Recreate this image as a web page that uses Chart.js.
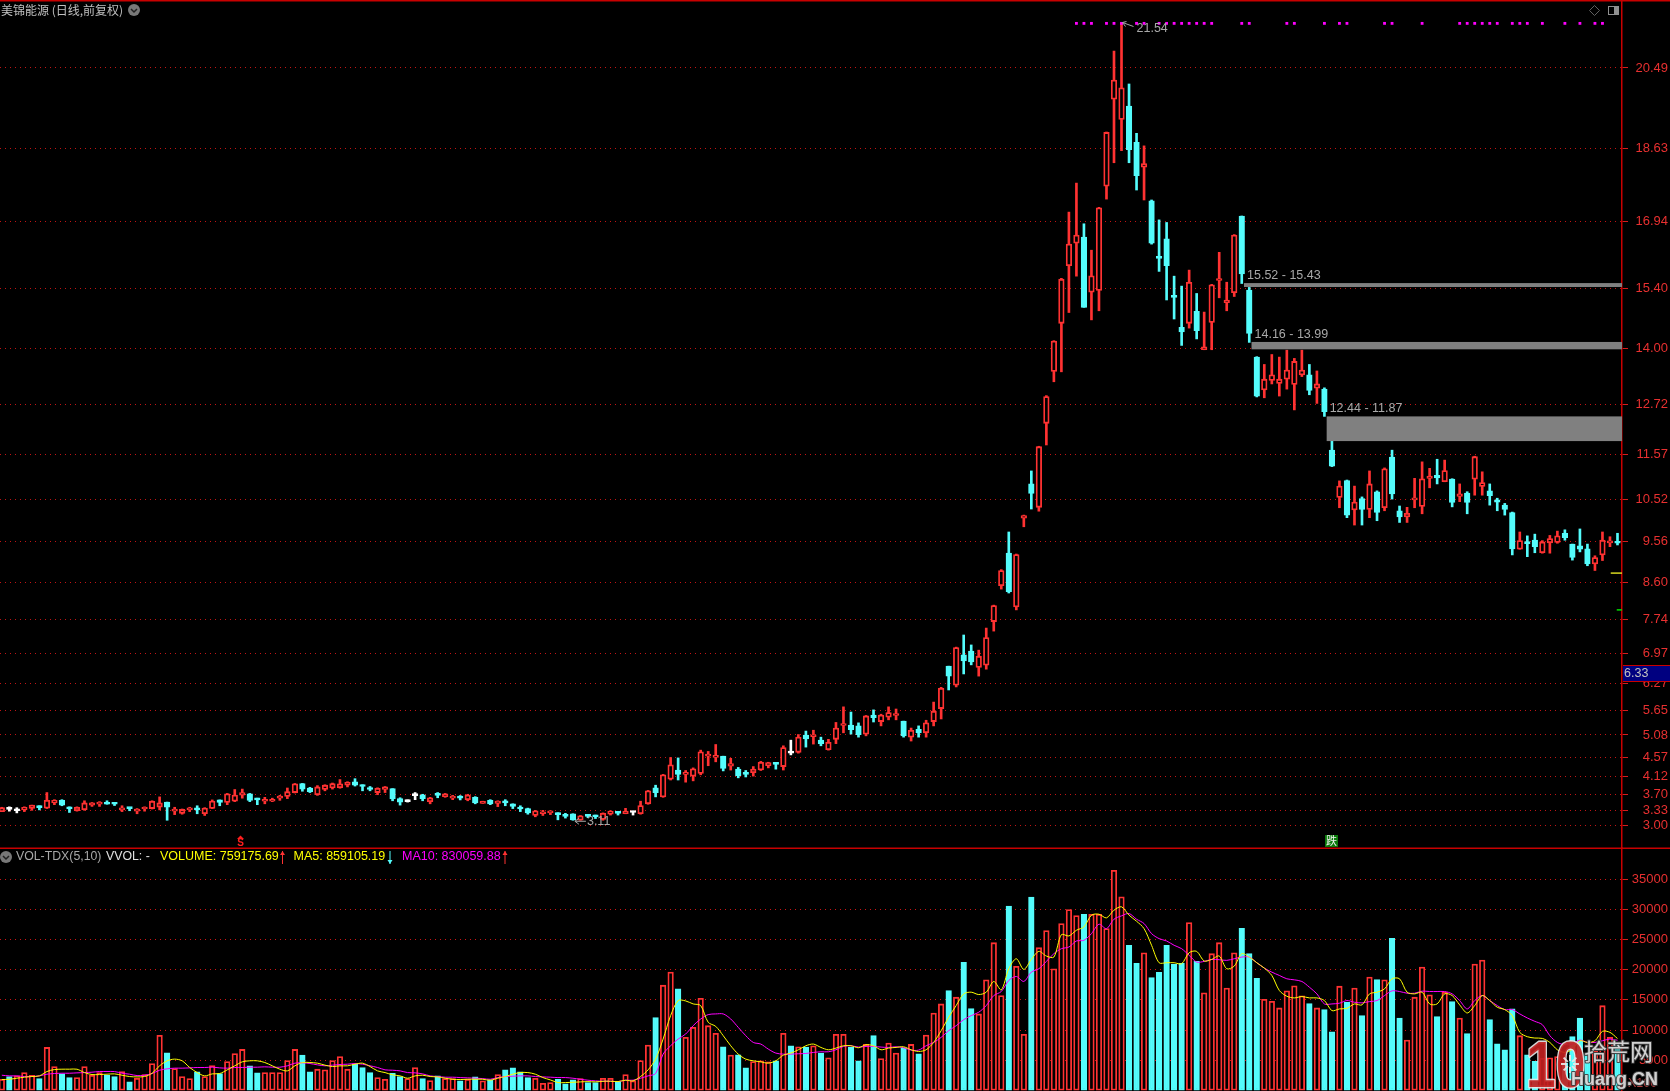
<!DOCTYPE html>
<html>
<head>
<meta charset="utf-8">
<title>美锦能源</title>
<script src="https://cdn.jsdelivr.net/npm/chart.js@4"></script>
<style>
  html, body { margin: 0; padding: 0; background: #000; overflow: hidden; }
  canvas { display: block; }
</style>
</head>
<body>
<canvas id="chart" width="1670" height="1091"></canvas>
<script>
const priceTicks = [3.00, 3.33, 3.70, 4.12, 4.57, 5.08, 5.65, 6.27, 6.97, 7.74, 8.60, 9.56, 10.52, 11.57, 12.72, 14.00, 15.40, 16.94, 18.63, 20.49];
const volumeTicks = [5000, 10000, 15000, 20000, 25000, 30000, 35000];

const opens = [
  3.31,3.37,3.33,3.35,3.385,3.42,3.39,3.51,3.57,3.42,
  3.33,3.355,3.46,3.48,3.50,3.51,3.35,3.40,3.32,3.37,
  3.38,3.415,3.53,3.32,3.27,3.35,3.37,3.26,3.385,3.58,
  3.52,3.55,3.69,3.72,3.60,3.55,3.55,3.62,3.66,3.75,
  3.955,3.855,3.70,3.82,3.855,3.86,3.92,4.00,3.92,3.86,
  3.75,3.82,3.84,3.61,3.54,3.68,3.70,3.54,3.71,3.655,
  3.62,3.65,3.585,3.64,3.50,3.57,3.50,3.53,3.49,3.40,
  3.38,3.22,3.26,3.28,3.26,3.23,3.26,3.11,3.21,3.20,
  3.13,3.25,3.31,3.26,3.29,3.26,3.49,3.86,3.65,4.06,
  4.27,4.17,4.13,4.19,4.59,4.56,4.59,4.36,4.29,4.21,
  4.21,4.27,4.37,4.42,4.35,4.68,4.68,5.08,5.04,4.96,
  4.74,4.98,5.30,5.31,5.29,5.10,5.54,5.39,5.49,5.53,
  5.40,5.03,5.21,5.13,5.39,5.69,6.67,6.23,6.93,7.02,
  6.64,6.69,7.70,8.53,9.28,8.04,10.09,10.88,10.34,12.28,
  13.48,14.59,15.92,16.44,16.58,15.31,15.35,17.76,19.77,19.30,
  19.61,18.77,18.20,17.42,16.11,16.54,15.21,14.50,14.59,14.87,
  13.98,14.61,15.58,15.07,15.30,17.07,15.36,13.81,13.05,13.27,
  13.20,13.30,13.18,13.40,13.40,13.09,13.07,11.66,10.57,10.96,
  10.28,10.54,10.29,10.70,10.33,11.50,10.26,10.12,10.51,10.36,
  11.01,11.08,10.93,10.99,10.59,10.67,10.99,10.82,10.72,10.51,
  10.39,10.22,9.37,9.52,9.58,9.29,9.52,9.53,9.74,9.49,
  9.45,9.38,9.03,9.24,9.52,9.55
];
const closes = [
  3.40,3.36,3.36,3.41,3.46,3.40,3.57,3.57,3.46,3.37,
  3.41,3.51,3.51,3.53,3.48,3.48,3.39,3.38,3.37,3.415,
  3.55,3.51,3.41,3.35,3.36,3.39,3.35,3.39,3.555,3.52,
  3.72,3.69,3.75,3.57,3.58,3.59,3.585,3.67,3.77,3.95,
  3.83,3.77,3.88,3.92,3.955,3.95,3.985,3.92,3.89,3.82,
  3.85,3.88,3.60,3.53,3.58,3.70,3.61,3.63,3.685,3.72,
  3.65,3.62,3.69,3.51,3.55,3.485,3.555,3.51,3.43,3.37,
  3.28,3.33,3.30,3.32,3.24,3.20,3.12,3.215,3.20,3.19,
  3.27,3.32,3.27,3.32,3.30,3.45,3.79,3.75,4.16,4.39,
  4.17,4.21,4.30,4.69,4.64,4.61,4.31,4.42,4.14,4.17,
  4.29,4.45,4.44,4.40,4.79,4.66,5.03,4.99,5.07,4.88,
  4.91,5.24,5.33,5.20,5.09,5.52,5.48,5.54,5.60,5.56,
  5.06,5.19,5.13,5.36,5.63,6.16,6.44,7.10,6.79,6.77,
  6.90,7.33,8.07,8.88,8.39,9.25,10.15,10.66,11.74,12.90,
  14.18,15.61,16.42,16.63,14.96,15.69,17.26,19.00,20.21,20.03,
  18.60,18.00,18.28,16.44,16.09,15.92,15.19,14.39,15.54,14.42,
  14.05,15.48,15.62,15.13,16.63,15.73,14.36,12.91,13.30,13.40,
  13.30,13.51,13.71,13.51,13.04,13.19,12.55,11.29,10.83,10.16,
  10.46,10.29,10.88,10.22,11.23,10.65,10.12,10.20,10.53,11.00,
  11.06,11.02,11.19,10.45,10.65,10.45,11.51,10.91,10.61,10.46,
  10.29,9.38,9.57,9.50,9.43,9.54,9.62,9.68,9.64,9.18,
  9.37,9.03,9.18,9.58,9.56,9.51
];
const highs = [
  3.41,3.42,3.40,3.42,3.46,3.445,3.75,3.585,3.585,3.42,
  3.42,3.56,3.52,3.54,3.56,3.51,3.445,3.40,3.38,3.42,
  3.56,3.65,3.53,3.41,3.37,3.41,3.445,3.40,3.58,3.58,
  3.73,3.82,3.83,3.73,3.62,3.64,3.62,3.685,3.855,3.96,
  3.96,3.87,3.91,3.93,3.97,4.05,4.00,4.07,3.93,3.89,
  3.86,3.89,3.84,3.63,3.58,3.75,3.71,3.64,3.75,3.73,
  3.685,3.68,3.71,3.655,3.55,3.585,3.56,3.585,3.49,3.445,
  3.39,3.34,3.34,3.33,3.285,3.27,3.26,3.22,3.24,3.23,
  3.28,3.33,3.31,3.385,3.32,3.55,3.80,3.92,4.17,4.56,
  4.55,4.26,4.32,4.73,4.70,4.86,4.59,4.54,4.33,4.26,
  4.35,4.47,4.45,4.43,4.83,4.96,5.09,5.17,5.19,5.03,
  4.98,5.37,5.73,5.61,5.36,5.53,5.66,5.56,5.73,5.68,
  5.40,5.24,5.29,5.42,5.84,6.18,6.67,7.11,7.39,7.16,
  7.04,7.55,8.08,8.90,9.77,9.26,10.16,11.18,11.75,12.92,
  14.19,15.63,17.16,17.83,16.89,16.28,17.27,19.01,20.88,21.54,
  20.12,18.98,18.69,17.44,16.98,16.92,15.68,15.45,15.82,15.28,
  14.85,15.49,16.23,15.54,16.64,17.07,15.42,13.82,13.64,13.87,
  13.81,13.97,13.78,13.97,13.64,13.49,13.10,11.87,10.95,10.97,
  10.83,10.58,11.18,10.72,11.25,11.66,10.37,10.34,11.01,11.39,
  11.24,11.45,11.43,11.00,10.88,10.70,11.52,11.16,10.88,10.55,
  10.43,10.23,9.77,9.68,9.72,9.57,9.69,9.79,9.82,9.49,
  9.84,9.49,9.22,9.77,9.66,9.74
];
const lows = [
  3.31,3.32,3.28,3.31,3.34,3.35,3.38,3.47,3.445,3.29,
  3.32,3.34,3.43,3.43,3.48,3.45,3.31,3.33,3.26,3.32,
  3.37,3.35,3.11,3.24,3.25,3.31,3.26,3.22,3.38,3.445,
  3.47,3.54,3.62,3.54,3.47,3.49,3.54,3.57,3.61,3.74,
  3.78,3.75,3.685,3.79,3.83,3.85,3.88,3.90,3.79,3.79,
  3.70,3.75,3.56,3.46,3.53,3.585,3.56,3.49,3.63,3.64,
  3.585,3.58,3.56,3.49,3.50,3.47,3.425,3.445,3.38,3.31,
  3.25,3.19,3.22,3.24,3.12,3.16,3.11,3.11,3.17,3.15,
  3.11,3.23,3.23,3.26,3.23,3.25,3.48,3.65,3.64,4.04,
  4.04,3.99,4.02,4.16,4.37,4.46,4.25,4.27,4.09,4.11,
  4.13,4.26,4.32,4.29,4.27,4.62,4.66,4.80,4.87,4.83,
  4.73,4.88,5.13,5.10,5.03,5.06,5.38,5.29,5.43,5.43,
  5.03,4.94,5.03,5.03,5.29,5.45,6.12,6.19,6.49,6.70,
  6.44,6.60,7.48,8.45,8.36,7.97,9.89,10.30,10.25,11.78,
  13.24,13.47,14.84,15.68,14.96,14.67,14.88,17.46,18.30,18.58,
  18.30,17.67,17.44,16.42,15.79,15.13,14.69,14.08,14.48,14.23,
  13.98,13.98,15.18,14.88,15.21,15.51,14.15,12.89,12.87,13.19,
  12.91,13.07,12.59,13.36,12.94,12.74,12.44,11.28,10.33,10.10,
  9.93,9.93,10.10,10.03,10.26,10.53,9.99,9.99,10.33,10.19,
  10.79,10.88,10.93,10.35,10.47,10.19,10.62,10.62,10.39,10.26,
  10.16,9.24,9.37,9.20,9.29,9.28,9.28,9.51,9.58,9.12,
  9.31,8.99,8.88,9.11,9.43,9.47
];
// candles drawn white in the reference (flat days)
const flatDays = [1, 2, 54, 55, 84, 105];

const volumes = [
  1830,2280,2390,2940,2500,1940,7110,3940,2720,2110,
  2110,3940,2500,2940,2500,2280,3110,1390,2000,2610,
  4440,9110,6220,3610,2280,1940,3060,2280,4110,2780,
  4780,6110,6780,4060,2890,2940,2940,2940,4940,6780,
  5830,3060,3500,3390,4940,5610,3500,4330,3780,2940,
  2110,1830,2830,2280,1940,3780,1940,1610,2390,1940,
  1940,1560,1830,2220,1560,1720,2610,3390,3720,3060,
  2110,2000,1170,1280,1830,1060,1720,1940,1280,1280,
  2000,2000,1440,2610,1560,4940,7500,12060,17440,19610,
  16830,8780,10440,15280,10720,9440,7220,5830,5890,3720,
  4780,4890,4720,4890,9440,7390,7220,7170,7390,6170,
  5390,9280,9280,7110,4890,7610,9060,5280,7830,6170,
  7060,7610,6060,9170,12830,14330,16560,15450,21220,13560,
  12670,18330,24500,15720,30560,20560,9280,32060,23670,26500,
  20170,27670,30000,29000,29220,29220,29220,26830,36500,32110,
  24060,21060,22830,18720,19560,24060,20890,21060,27830,21390,
  16170,22670,24500,16950,22830,26890,22670,18560,15110,14780,
  13670,16500,17330,15670,14390,13670,13390,9720,17280,14610,
  16950,12390,18780,18390,18330,25220,12000,8330,15450,20450,
  15830,12220,16280,14720,12000,9390,20950,21610,11720,7720,
  6720,13500,9060,5900,4800,5300,5400,5600,4500,8900,
  12000,6000,6500,14040,8800,7590
];
const ma5 = [
  1780,1830,2000,2170,2280,2390,3110,3440,3500,3500,
  3500,2940,2610,2610,2670,2720,2500,2280,2220,2280,
  2830,4060,4890,5170,4890,3780,2940,2390,2720,2780,
  3390,4060,4720,4890,4890,4610,4060,3500,3220,4060,
  4610,4610,4500,4170,3940,4060,4060,4330,4500,3940,
  3220,2940,2560,2390,2000,2390,2500,2280,2220,2000,
  1830,1780,1830,1830,1830,1670,2000,2280,2670,2940,
  2940,2670,2110,1720,1280,1280,1330,1390,1440,1390,
  1500,1500,1440,1670,1560,2280,3390,5170,8500,12390,
  14890,14830,14330,14060,11280,10610,9060,7390,6000,5170,
  4890,4720,4500,4890,5830,6170,6720,7390,7670,7110,
  6720,7000,7390,7390,7060,7560,7390,6720,7000,7110,
  7220,6720,6440,6720,7940,9890,12110,14060,16000,16280,
  15890,16280,18060,16670,20170,21830,20060,21720,23060,22280,
  22110,25830,25610,26560,27110,29060,29220,28610,29890,30450,
  29060,28060,26830,24060,21170,21170,21170,21000,22830,23060,
  21450,21720,22280,20170,20610,22670,22110,21170,20280,19060,
  16560,15610,15330,15560,15330,15330,14890,13220,13500,13610,
  14330,14170,16000,16280,16830,18500,18500,16280,16000,16280,
  14330,14330,16000,15720,14170,12830,14060,15720,14890,13780,
  13390,12390,9610,8890,8670,8610,7940,6720,6280,6830,
  8220,7940,8220,9780,9610,8590
];
const ma10 = [
  2500,2390,2390,2280,2280,2390,2670,2780,2830,2830,
  2890,2940,3000,3110,3110,3110,2830,2670,2440,2500,
  2780,3330,3560,3670,3670,3720,3780,3780,3830,3720,
  3670,3780,3780,3830,3830,3890,3830,3830,4060,4500,
  4560,4440,4220,4060,4170,4280,4330,4440,4330,4060,
  3780,3390,3330,3220,2940,2890,2720,2390,2280,2170,
  2170,2110,2060,2000,1940,1830,2110,2280,2330,2390,
  2390,2280,2220,2170,2110,2110,2000,1830,1670,1560,
  1500,1500,1440,1670,1670,2000,2390,2780,6000,7390,
  8500,9330,10720,11830,12560,12670,12670,11830,10440,9060,
  7940,7670,6830,6170,6000,6000,6060,6110,6280,6390,
  6390,6720,7280,7390,7170,7280,7280,7170,7110,7220,
  7060,6670,6670,7390,7940,8780,9890,10720,11720,12390,
  12950,14060,15720,16390,18220,18890,18060,19610,20170,21390,
  22670,23500,23780,24780,24890,26000,27560,26830,28390,28950,
  29330,28390,27670,26000,25170,24780,24060,23500,22390,21280,
  21390,21720,21670,21560,21830,22110,22110,21170,20280,19610,
  19060,18500,18330,18060,17110,16000,14330,14330,14450,14890,
  14610,14500,14720,14890,15720,16500,16390,16110,16110,16450,
  16390,16390,16390,16000,14890,13500,14890,15720,14890,14060,
  13390,13390,12670,12000,11440,10890,9060,7940,7560,7670,
  8330,7940,7940,8220,8500,8300
];

// days with the magenta dot along the top of the price pane
const signalDays = [143,144,145,147,148,149,151,152,154,155,156,157,158,159,160,161,165,166,171,172,176,178,179,184,185,189,194,195,196,197,198,199,201,202,203,205,208,210,212,213];
const signalLevel = 21.52;

// unfilled gaps, top - bottom, and the day they start after
const gapTops = [15.52, 14.16, 12.44];
const gapBottoms = [15.43, 13.99, 11.87];
const gapDays = [165, 166, 176];

const RED = '#ff3232';
const CYAN = '#54fcfc';
const AXIS_RED = '#c80000';
const LABEL_FONT = '"Liberation Sans", Arial, sans-serif';

function candleColor(i) {
  if (flatDays.includes(i)) return '#ffffff';
  return closes[i] >= opens[i] ? RED : CYAN;
}
function volumeColor(i) {
  return closes[i] >= opens[i] ? RED : CYAN;
}

const days = opens.map((v, i) => i);

// the tick labels must not shrink the panes: they run edge to edge
function fitAxis(scale) {
  scale.width = 46;
  scale.paddingTop = 0;
  scale.paddingBottom = 0;
}

const overlayPlugin = {
  id: 'overlay',
  afterDatasetsDraw(chart) {
    const ctx = chart.ctx;
    const x = chart.scales.x;
    const y = chart.scales.y;
    const right = chart.chartArea.right;

    // gap zones
    gapTops.forEach((top, n) => {
      const left = x.getPixelForValue(gapDays[n] + 0.3);
      const yTop = y.getPixelForValue(top);
      const yBottom = y.getPixelForValue(gapBottoms[n]);
      ctx.fillStyle = '#808080';
      ctx.fillRect(left, yTop, right - left, Math.max(yBottom - yTop, 3));
      ctx.fillStyle = '#a8a8a8';
      ctx.font = '12.5px ' + LABEL_FONT;
      ctx.textAlign = 'left';
      ctx.textBaseline = 'middle';
      ctx.fillText(top.toFixed(2) + ' - ' + gapBottoms[n].toFixed(2), left + 3, yTop - 7.5);
    });

    // frame lines
    ctx.fillStyle = AXIS_RED;
    ctx.fillRect(0, 0, 1670, 1.5);
    ctx.fillRect(0, 847.5, 1670, 1.5);

    // high and low callouts
    ctx.strokeStyle = '#a8a8a8';
    ctx.lineWidth = 1;
    const highX = x.getPixelForValue(149);
    const highY = y.getPixelForValue(21.54);
    ctx.beginPath();
    ctx.moveTo(highX + 1, highY);
    ctx.lineTo(highX + 12, highY + 4);
    ctx.moveTo(highX + 1, highY);
    ctx.lineTo(highX + 5, highY - 1);
    ctx.moveTo(highX + 1, highY);
    ctx.lineTo(highX + 4, highY + 4);
    ctx.stroke();
    const lowX = x.getPixelForValue(76);
    const lowY = y.getPixelForValue(3.11);
    ctx.beginPath();
    ctx.moveTo(lowX + 2, lowY + 1);
    ctx.lineTo(lowX + 13, lowY + 1);
    ctx.moveTo(lowX + 2, lowY + 1);
    ctx.lineTo(lowX + 6, lowY - 2);
    ctx.moveTo(lowX + 2, lowY + 1);
    ctx.lineTo(lowX + 6, lowY + 4);
    ctx.stroke();
    ctx.fillStyle = '#a8a8a8';
    ctx.font = '12.5px ' + LABEL_FONT;
    ctx.textAlign = 'left';
    ctx.textBaseline = 'middle';
    ctx.fillText('21.54', highX + 15, highY + 6);
    ctx.fillText('3.11', lowX + 14, lowY + 1);

    // trade markers above the divider
    ctx.fillStyle = '#ff1e1e';
    ctx.beginPath();
    ctx.moveTo(240.5, 835.5);
    ctx.lineTo(237, 839);
    ctx.lineTo(244, 839);
    ctx.fill();
    ctx.font = 'bold 10px ' + LABEL_FONT;
    ctx.textAlign = 'center';
    ctx.fillText('S', 240.5, 843.5);
    ctx.fillStyle = '#0a7a0a';
    ctx.fillRect(1325, 835, 13, 12);
    ctx.fillStyle = '#f0f0f0';
    ctx.font = '11px "Noto Sans CJK SC"';
    ctx.fillText('跌', 1331.5, 841);

    // latest price tag over the axis
    ctx.fillStyle = '#000080';
    ctx.fillRect(1623, 666, 47, 15);
    ctx.strokeStyle = AXIS_RED;
    ctx.beginPath();
    ctx.moveTo(1623, 665.5);
    ctx.lineTo(1670, 665.5);
    ctx.moveTo(1623, 681.5);
    ctx.lineTo(1670, 681.5);
    ctx.stroke();
    ctx.fillStyle = '#c0c0c0';
    ctx.font = '12.5px ' + LABEL_FONT;
    ctx.textAlign = 'left';
    ctx.fillText('6.33', 1624, 674);

    // pane titles
    ctx.font = '12px "Noto Sans CJK SC"';
    ctx.fillStyle = '#c0c0c0';
    ctx.fillText('美锦能源 (日线,前复权)', 1, 10);
    circleIcon(ctx, 134, 10);
    circleIcon(ctx, 6, 857);

    ctx.font = '12.3px ' + LABEL_FONT;
    ctx.fillStyle = '#a8a8a8';
    ctx.fillText('VOL-TDX(5,10)', 16, 857);
    ctx.fillStyle = '#e0e0e0';
    ctx.fillText('VVOL: -', 106, 857);
    ctx.font = '12.5px ' + LABEL_FONT;
    ctx.fillStyle = '#ffff00';
    ctx.fillText('VOLUME: 759175.69', 160, 857);
    ctx.fillText('MA5: 859105.19', 293.5, 857);
    ctx.fillStyle = '#ff00ff';
    ctx.fillText('MA10: 830059.88', 402, 857);
    arrowIcon(ctx, 282.5, true, RED);
    arrowIcon(ctx, 390, false, CYAN);
    arrowIcon(ctx, 505, true, RED);

    // window buttons
    ctx.strokeStyle = '#606060';
    ctx.beginPath();
    ctx.moveTo(1594.5, 5.5);
    ctx.lineTo(1599.5, 10.5);
    ctx.lineTo(1594.5, 15.5);
    ctx.lineTo(1589.5, 10.5);
    ctx.closePath();
    ctx.stroke();
    ctx.strokeStyle = '#909090';
    ctx.strokeRect(1608.5, 6.5, 10, 8);
    ctx.fillStyle = '#909090';
    ctx.fillRect(1614, 7, 4, 7);

    // axis note and site mark
    ctx.fillStyle = '#b04040';
    ctx.font = '12.5px ' + LABEL_FONT;
    ctx.fillText('X100', 1628, 1084);
    watermark(ctx);
  }
};

function circleIcon(ctx, cx, cy) {
  ctx.fillStyle = '#787878';
  ctx.beginPath();
  ctx.arc(cx, cy, 6, 0, Math.PI * 2);
  ctx.fill();
  ctx.strokeStyle = '#202020';
  ctx.lineWidth = 1.5;
  ctx.beginPath();
  ctx.moveTo(cx - 3, cy - 1);
  ctx.lineTo(cx, cy + 2);
  ctx.lineTo(cx + 3, cy - 1);
  ctx.stroke();
  ctx.lineWidth = 1;
}

function arrowIcon(ctx, cx, up, color) {
  ctx.strokeStyle = color;
  ctx.fillStyle = color;
  ctx.lineWidth = 1;
  ctx.beginPath();
  ctx.moveTo(cx, 851);
  ctx.lineTo(cx, 864);
  ctx.stroke();
  const tip = up ? 851 : 864;
  const base = up ? 855 : 860;
  ctx.beginPath();
  ctx.moveTo(cx, tip);
  ctx.lineTo(cx - 2.5, base);
  ctx.lineTo(cx + 2.5, base);
  ctx.fill();
}

function watermark(ctx) {
  ctx.save();
  ctx.textBaseline = 'alphabetic';
  ctx.textAlign = 'left';
  ctx.lineJoin = 'round';
  ctx.globalAlpha = 0.92;

  // narrow tall "10"
  ctx.save();
  ctx.translate(1526, 1087);
  ctx.scale(0.82, 1);
  ctx.font = 'bold 65px ' + LABEL_FONT;
  ctx.lineWidth = 3;
  ctx.strokeStyle = '#e8e8e8';
  ctx.strokeText('10', 0, 0);
  ctx.fillStyle = '#c02020';
  ctx.fillText('10', 0, 0);
  ctx.restore();

  // gear in the zero
  ctx.strokeStyle = '#e8e8e8';
  ctx.lineWidth = 2;
  for (let a = 0; a < 8; a++) {
    const t = a * Math.PI / 4;
    ctx.beginPath();
    ctx.moveTo(1570 + Math.cos(t) * 3, 1064 + Math.sin(t) * 3);
    ctx.lineTo(1570 + Math.cos(t) * 9, 1064 + Math.sin(t) * 9);
    ctx.stroke();
  }

  ctx.font = '23px "Noto Sans CJK SC"';
  ctx.lineWidth = 2;
  ctx.strokeStyle = '#404040';
  ctx.strokeText('拾荒网', 1584, 1060);
  ctx.fillStyle = '#e0e0e0';
  ctx.fillText('拾荒网', 1584, 1060);

  ctx.font = 'bold 18px ' + LABEL_FONT;
  ctx.strokeText('Huang.CN', 1571, 1085);
  ctx.fillStyle = '#e0e0e0';
  ctx.fillText('Huang.CN', 1571, 1085);
  ctx.restore();
}

new Chart(document.getElementById('chart'), {
  type: 'bar',
  data: {
    datasets: [
      {
        label: 'wicks',
        yAxisID: 'y',
        data: days.map(i => ({ x: i, y: [lows[i], highs[i]] })),
        backgroundColor: days.map(candleColor),
        barThickness: 2,
        grouped: false,
        order: 5
      },
      {
        label: 'bodies',
        yAxisID: 'y',
        data: days.map(i => ({ x: i, y: [opens[i], closes[i]] })),
        backgroundColor: days.map(i => (closes[i] >= opens[i] && !flatDays.includes(i) ? '#000000' : candleColor(i))),
        borderColor: days.map(candleColor),
        borderWidth: 1.8,
        borderSkipped: false,
        minBarLength: 2,
        barThickness: 5.6,
        grouped: false,
        order: 4
      },
      {
        label: 'signal',
        type: 'line',
        yAxisID: 'y',
        data: signalDays.map(i => ({ x: i, y: signalLevel })),
        showLine: false,
        pointStyle: 'rect',
        pointRadius: 2,
        pointBackgroundColor: '#ff00ff',
        pointBorderWidth: 0,
        order: 3
      },
      {
        label: 'yellow mark',
        type: 'line',
        yAxisID: 'y',
        data: [{ x: 214.1, y: 8.82 }, { x: 215.6, y: 8.82 }],
        borderColor: '#d8d820',
        borderWidth: 1.5,
        pointRadius: 0,
        order: 3
      },
      {
        label: 'green mark',
        type: 'line',
        yAxisID: 'y',
        data: [{ x: 214.9, y: 7.97 }, { x: 215.6, y: 7.97 }],
        borderColor: '#00e000',
        borderWidth: 1.5,
        pointRadius: 0,
        order: 3
      },
      {
        label: 'volume',
        yAxisID: 'yVol',
        data: days.map(i => ({ x: i, y: volumes[i] })),
        backgroundColor: days.map(i => (closes[i] >= opens[i] ? '#000000' : CYAN)),
        borderColor: days.map(volumeColor),
        borderWidth: 1.8,
        borderSkipped: false,
        barThickness: 5.6,
        grouped: false,
        order: 4
      },
      {
        label: 'MA10',
        type: 'line',
        yAxisID: 'yVol',
        data: days.map(i => ({ x: i, y: ma10[i] })),
        borderColor: '#ff00ff',
        borderWidth: 1,
        pointRadius: 0,
        tension: 0.3,
        order: 2
      },
      {
        label: 'MA5',
        type: 'line',
        yAxisID: 'yVol',
        data: days.map(i => ({ x: i, y: ma5[i] })),
        borderColor: '#ffff00',
        borderWidth: 1,
        pointRadius: 0,
        tension: 0.3,
        order: 1
      }
    ]
  },
  options: {
    responsive: false,
    animation: false,
    devicePixelRatio: 1,
    events: [],
    layout: { autoPadding: false, padding: { left: 0, top: 0, bottom: 0, right: 2 } },
    plugins: {
      legend: { display: false },
      title: { display: false },
      tooltip: { enabled: false }
    },
    scales: {
      x: {
        type: 'linear',
        offset: false,
        min: -0.24,
        max: 215.6,
        display: false
      },
      y: {
        type: 'linear',
        position: 'right',
        stack: 'panes',
        stackWeight: 848,
        weight: 1,
        min: 2.469,
        max: 22.06,
        afterFit: fitAxis,
        afterBuildTicks(scale) { scale.ticks = priceTicks.map(v => ({ value: v })); },
        border: { color: AXIS_RED, width: 1.5, dash: [1, 4] },
        grid: { color: '#c21414', tickColor: '#d81c1c', tickLength: 6, lineWidth: 1 },
        ticks: {
          color: '#e83030',
          crossAlign: 'far',
          autoSkip: false,
          font: { family: 'Liberation Sans', size: 13 },
          callback: v => v.toFixed(2)
        }
      },
      yVol: {
        type: 'linear',
        position: 'right',
        stack: 'panes',
        stackWeight: 243,
        weight: 2,
        min: -120,
        max: 40210,
        afterFit: fitAxis,
        afterBuildTicks(scale) { scale.ticks = volumeTicks.map(v => ({ value: v })); },
        border: { color: AXIS_RED, width: 1.5, dash: [1, 4] },
        grid: { color: '#d01515', tickColor: '#d81c1c', tickLength: 6, lineWidth: 1 },
        ticks: {
          color: '#e83030',
          crossAlign: 'far',
          autoSkip: false,
          font: { family: 'Liberation Sans', size: 13 },
          callback: v => String(v)
        }
      }
    }
  },
  plugins: [overlayPlugin]
});
</script>
</body>
</html>
